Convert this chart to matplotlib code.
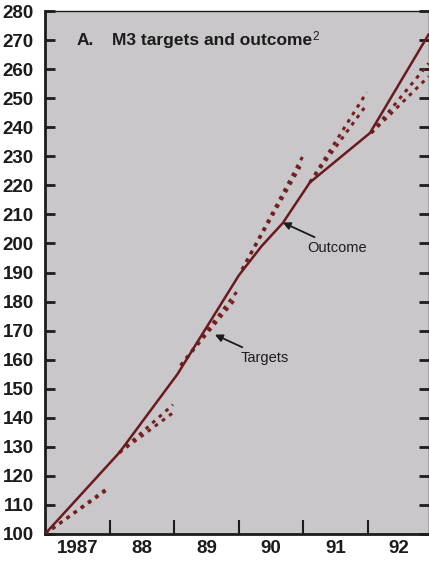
import matplotlib
matplotlib.use("Agg")
import matplotlib.pyplot as plt
from matplotlib.ticker import FixedLocator, NullFormatter

# ---- data ----
outcome_t = [1987.0, 1988.15, 1989.05, 1990.0, 1990.35, 1990.68, 1991.1, 1992.03, 1992.94]
outcome_v = [100, 128, 155, 189, 199, 207, 221, 238, 272]

target_start_t = [1987.0, 1988.15, 1989.10, 1990.05, 1991.10, 1992.05]
target_start_v = [100, 128, 158, 191, 221, 238]
target_end_t_hi = [1987.98, 1988.98, 1989.99, 1990.99, 1991.98, 1992.94]
target_end_v_hi = [116, 144.5, 184, 230, 252, 262]
target_end_t_lo = [1987.98, 1988.98, 1989.95, 1990.95, 1991.97, 1992.94]
target_end_v_lo = [115.5, 141.7, 181, 226.5, 247.5, 257.5]

year_ticks = [1988, 1989, 1990, 1991, 1992]
year_label_pos = [1987.5, 1988.5, 1989.5, 1990.5, 1991.5, 1992.47]
year_labels = ["1987", "88", "89", "90", "91", "92"]
y_ticks = list(range(100, 281, 10))

title_letter = "A."
title_text = "M3 targets and outcome"
title_note = "2"

# ---- styling ----
bg = "#c9c7c9"
red = "#6a1a1e"
dash_red = "#74201f"
ink = "#1c1c1c"
sans = ["Liberation Sans", "DejaVu Sans"]

fig = plt.figure(figsize=(4.29, 5.67), dpi=100)
ax = fig.add_axes([45 / 429, 33 / 567, 384 / 429, 523 / 567])
ax.set_facecolor(bg)

# outcome
ax.plot(outcome_t, outcome_v, color=red, lw=1.8, solid_capstyle="round", zorder=4)

# targets
for i in range(len(target_start_t)):
    for et, ev in ((target_end_t_hi[i], target_end_v_hi[i]), (target_end_t_lo[i], target_end_v_lo[i])):
        ax.plot([target_start_t[i], et], [target_start_v[i], ev], color=dash_red,
                lw=2.2, linestyle=(0, (1.2, 1.7)), dash_capstyle="butt", zorder=3)

ax.set_xlim(1987.0, 1987.0 + 384 / 64.6)
ax.set_ylim(100, 280)

# axes ticks
ax.xaxis.set_major_locator(FixedLocator(year_ticks))
ax.xaxis.set_major_formatter(NullFormatter())
ax.xaxis.set_minor_locator(FixedLocator(year_label_pos))
ax.set_xticklabels(year_labels, minor=True)
ax.tick_params(axis="x", which="major", direction="in", length=10, width=1.5,
               color=ink, top=False)
ax.tick_params(axis="x", which="minor", length=0, pad=4)

ax.set_yticks(y_ticks)
ax.set_yticklabels([str(v) for v in y_ticks])
ax.tick_params(axis="y", which="major", direction="in", length=7, width=2,
               color=ink, right=True, pad=8)

for lab in ax.get_yticklabels() + ax.get_xticklabels(minor=True):
    lab.set_fontfamily(["Liberation Sans Narrow", "Liberation Sans", "DejaVu Sans"])
    lab.set_fontweight("bold")
    lab.set_fontsize(13.5)
    lab.set_color(ink)

for side, w in (("left", 2.0), ("bottom", 2.0), ("top", 1.0), ("right", 1.0)):
    ax.spines[side].set_linewidth(w)
    ax.spines[side].set_color(ink)

# title
ax.text(1987.495, 269.7, title_letter, fontsize=12.5, fontweight="bold",
        family=sans, color=ink, va="center", ha="left")
t = ax.text(1988.037, 269.7, title_text, fontsize=12.5, fontweight="bold",
            family=sans, color=ink, va="center", ha="left")
fig.canvas.draw()
bb = t.get_window_extent().transformed(ax.transData.inverted())
ax.text(bb.x1 + 0.01, 271.0, title_note, fontsize=8.5, family=sans, color=ink,
        va="center", ha="left")

# annotations
ann_kw = dict(fontsize=10.5, family=sans, color=ink, va="center", ha="left",
              arrowprops=dict(arrowstyle="-|>", color=ink, lw=1.3,
                              mutation_scale=11, shrinkA=1, shrinkB=0))
ax.annotate("Outcome", xy=(1990.68, 207.2), xytext=(1991.06, 198.6), **ann_kw)
ax.annotate("Targets", xy=(1989.63, 168.6), xytext=(1990.03, 160.7), **ann_kw)

fig.savefig("out.png", dpi=100, facecolor="white")
